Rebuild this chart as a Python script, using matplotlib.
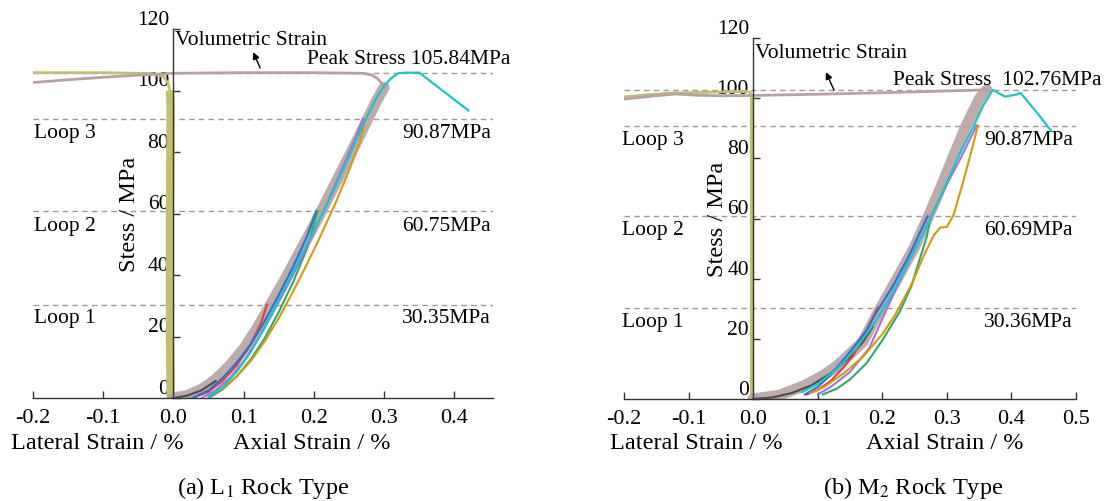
import matplotlib
matplotlib.use("Agg")
import matplotlib.pyplot as plt

plt.rcParams["font.family"] = ["Liberation Serif", "DejaVu Serif"]
plt.rcParams["mathtext.fontset"] = "stix"

# ---- colours ----
BAND, OLIVE, DASH = "#b7a2a2", "#c2be74", "#9a9a9a"
CYAN, BLUE, RED = "#1fc4c8", "#2d6fd8", "#e2413b"
PURPLE, GREEN, GOLD, DARK = "#a86fe0", "#2fa86c", "#d49a0e", "#4f4f4f"

# ================= (a) L1 rock =================
L_env_x = [0, 0.02, 0.04, 0.06, 0.08, 0.10, 0.12, 0.14, 0.16, 0.18, 0.20, 0.22, 0.24, 0.26, 0.275, 0.29, 0.30]
L_env_y = [0, 0.8, 2.8, 6, 10.5, 16, 23, 31, 39, 47.5, 56, 65, 74, 83, 90, 97, 101]
L_vol_x = [0.30, 0.296, 0.29, 0.283, 0.27, 0.2, 0.1, 0.0, -0.05, -0.1, -0.15, -0.2]
L_vol_y = [101, 102.5, 104, 105, 105.6, 105.8, 105.8, 105.6, 105.0, 104.3, 103.5, 102.6]
L_lat_x = [-0.004, -0.005, -0.005, -0.004, -0.005, -0.008, -0.014, -0.03, -0.1, -0.2]
L_lat_y = [0, 20, 60, 95, 100, 102.5, 104.5, 105.5, 105.8, 105.8]
L_dark_x = [0, 0.02, 0.04, 0.06]
L_dark_y = [0, 0.8, 2.5, 5.5]
L_red_x = [0.027, 0.05, 0.07, 0.09, 0.11, 0.125, 0.133]
L_red_y = [0, 2, 5.5, 10.5, 17.5, 24.5, 30.35]
L_blue_x = [0.027, 0.05, 0.07, 0.09, 0.11, 0.13, 0.15, 0.17, 0.19, 0.203]
L_blue_y = [0, 2.5, 6.5, 11.5, 17.5, 25, 33.5, 42.5, 52.5, 60.75]
L_green_x = [0.05, 0.07, 0.09, 0.11, 0.13, 0.15, 0.17, 0.19, 0.205]
L_green_y = [0, 2.8, 7, 12.5, 19.5, 28, 37.5, 48.5, 60.75]
L_purple_x = [0.04, 0.06, 0.08, 0.10, 0.12, 0.14, 0.16, 0.18, 0.20, 0.22, 0.24, 0.26, 0.27]
L_purple_y = [0, 2.5, 6.5, 12, 19, 27, 35.5, 44.5, 54, 64, 74.5, 85, 90.87]
L_gold_x = [0.055, 0.07, 0.09, 0.11, 0.13, 0.15, 0.17, 0.19, 0.21, 0.23, 0.25, 0.265, 0.273]
L_gold_y = [1.5, 3, 7, 12, 18.5, 26, 34.5, 43.5, 53, 63, 74, 83, 90.87]
L_cyan_x = [0.05, 0.07, 0.09, 0.11, 0.13, 0.146, 0.16, 0.18, 0.20, 0.212, 0.23, 0.25, 0.27, 0.28,
            0.29, 0.30, 0.31, 0.32, 0.33, 0.35, 0.42]
L_cyan_y = [0.5, 3.5, 8.5, 15, 23, 30, 36.5, 45.5, 54.5, 60, 68.5, 78.5, 89, 93.5,
            98, 101.5, 104, 105.6, 105.8, 105.8, 93.5]
L_levels = [30.35, 60.75, 90.87, 105.84]

# ================= (b) M2 rock =================
M_env_x = [0, 0.04, 0.08, 0.11, 0.13, 0.15, 0.17, 0.193, 0.21, 0.227, 0.25, 0.27, 0.29, 0.309, 0.33, 0.351, 0.362]
M_env_y = [0, 1.2, 4.5, 8, 11, 15, 19, 28.5, 35, 41.5, 50.5, 60, 70, 80, 90.87, 100, 102.76]
M_vol_x = [0.362, 0.3, 0.2, 0.1, 0.0, -0.05, -0.09, -0.12, -0.15, -0.2]
M_vol_y = [102.76, 102.4, 101.8, 101.3, 100.9, 100.8, 101.0, 101.4, 100.8, 99.7]
M_lat_x = [-0.002, -0.002, -0.002, -0.004, -0.01, -0.05, -0.1, -0.12, -0.16, -0.2]
M_lat_y = [0, 50, 100, 101.8, 102.3, 102.1, 101.8, 101.8, 101.2, 100.4]
M_dark_x = [0, 0.03, 0.06, 0.09, 0.12, 0.15, 0.17, 0.185]
M_dark_y = [0, 0.5, 2, 4.5, 8.5, 14, 19, 24]
M_red_x = [0.083, 0.10, 0.12, 0.14, 0.155, 0.17, 0.183, 0.193]
M_red_y = [1.5, 3, 6, 10.5, 14.5, 20.5, 26, 30.36]
M_blue_x = [0.08, 0.10, 0.12, 0.134, 0.155, 0.176, 0.19, 0.215, 0.24, 0.27]
M_blue_y = [1.5, 4, 8, 11.5, 17, 23, 28.5, 37, 47, 60.69]
M_green_x = [0.108, 0.13, 0.15, 0.176, 0.20, 0.227, 0.245, 0.258, 0.269, 0.275]
M_green_y = [1.5, 3.5, 6.5, 12, 19.5, 29, 37.5, 46.5, 54, 60.69]
M_purple_x = [0.10, 0.12, 0.15, 0.18, 0.207, 0.23, 0.25, 0.274, 0.30, 0.32, 0.335, 0.346]
M_purple_y = [1.5, 4, 9, 17, 30, 40.5, 49.5, 60, 71.5, 79.5, 86, 90.87]
M_gold_x = [0.088, 0.11, 0.14, 0.17, 0.20, 0.22, 0.245, 0.265, 0.28, 0.29, 0.30, 0.31, 0.325, 0.34, 0.348]
M_gold_y = [2, 4, 8.5, 14, 21.5, 28, 38, 48, 54.5, 57, 57.2, 61, 72, 84, 90.87]
M_cyan_x = [0.076, 0.10, 0.13, 0.16, 0.19, 0.21, 0.23, 0.25, 0.275, 0.30, 0.32, 0.34, 0.355,
            0.371, 0.39, 0.408, 0.414, 0.444, 0.462]
M_cyan_y = [2.3, 5, 10, 17, 26, 33, 41, 49.5, 60, 72, 81.5, 90, 97,
            102.76, 100.5, 101.2, 101.8, 94, 89]
M_levels = [30.36, 60.69, 90.87, 102.76]

XTICKS_L = [-0.2, -0.1, 0.0, 0.1, 0.2, 0.3, 0.4]
XTICKS_M = [-0.2, -0.1, 0.0, 0.1, 0.2, 0.3, 0.4, 0.5]
YTICKS = [0, 20, 40, 60, 80, 100, 120]

FS = 15.5      # annotations, y ticks
FS_AX = 17.5   # axis titles, captions
W, H = 1114, 502
fig = plt.figure(figsize=(W / 100, H / 100), dpi=100)
axL = fig.add_axes([33 / W, 1 - 399 / H, 460 / W, 369 / H])
axM = fig.add_axes([624 / W, 1 - 400 / H, 452 / W, 361 / H])


def setup(ax, xmax, xticks):
    ax.set_xlim(-0.2, xmax)
    ax.set_ylim(0, 120)
    ax.spines["top"].set_visible(False)
    ax.spines["right"].set_visible(False)
    ax.spines["left"].set_position(("data", 0))
    for s in ("left", "bottom"):
        ax.spines[s].set_color("#333333")
        ax.spines[s].set_linewidth(1.0)
    ax.set_xticks(xticks)
    ax.set_xticklabels([f"{t:.1f}" for t in xticks], fontsize=16)
    ax.set_yticks(YTICKS)
    ax.set_yticklabels([str(t) for t in YTICKS], fontsize=FS, va="bottom")
    ax.tick_params(axis="both", direction="in", length=5, width=1, colors="#333333",
                   labelcolor="black")
    ax.tick_params(axis="x", pad=7)
    ax.tick_params(axis="y", pad=3)
    ax.patch.set_alpha(0)


def curves(ax, env, vol, lat, dark, loops, cyan, lat_lw, n_vert):
    lx, ly = lat
    ax.plot(lx[:n_vert], ly[:n_vert], color=OLIVE, lw=lat_lw, solid_capstyle="butt", zorder=2)
    ax.plot(lx[n_vert - 1:], ly[n_vert - 1:], color=OLIVE, lw=2, zorder=2)
    ax.plot(*vol, color=BAND, lw=2, zorder=2)
    ax.plot(*env, color=BAND, lw=8, alpha=0.9, solid_capstyle="round", zorder=2)
    ax.plot(*dark, color=DARK, lw=1.6, zorder=3)
    for (xs, ys), c in loops:
        ax.plot(xs, ys, color=c, lw=1.5, zorder=3)
    ax.plot(*cyan, color=CYAN, lw=1.6, zorder=4)


def levels(ax, vals):
    for v in vals:
        ax.axhline(v, color=DASH, lw=1, ls=(0, (4, 3)), zorder=1)


# ---- (a) ----
setup(axL, 0.455, XTICKS_L)
levels(axL, L_levels)
curves(axL, (L_env_x, L_env_y), (L_vol_x, L_vol_y), (L_lat_x, L_lat_y), (L_dark_x, L_dark_y),
       [((L_red_x, L_red_y), RED), ((L_blue_x, L_blue_y), BLUE), ((L_green_x, L_green_y), GREEN),
        ((L_purple_x, L_purple_y), PURPLE), ((L_gold_x, L_gold_y), GOLD)],
       (L_cyan_x, L_cyan_y), 6, 5)
axL.text(0.002, 116.6, "Volumetric Strain", fontsize=FS, ha="left", va="center")
axL.annotate("", xy=(0.112, 113.3), xytext=(0.125, 106.5),
             arrowprops=dict(arrowstyle="-|>", color="black", lw=1, mutation_scale=10))
axL.text(0.19, 110.4, "Peak Stress 105.84MPa", fontsize=FS, ha="left", va="center")
for v, lab, loop in zip([86.2, 56.2, 26.3], ["90.87MPa", "60.75MPa", "30.35MPa"],
                        ["Loop 3", "Loop 2", "Loop 1"]):
    axL.text(0.452, v, lab, fontsize=FS, ha="right", va="center")
    axL.text(-0.199, v, loop, fontsize=FS, ha="left", va="center")
axL.text(-0.063, 60, "Stess / MPa", fontsize=FS_AX, rotation=90, ha="center", va="center")
axL.text(0.14, -0.12, "Lateral Strain / %", fontsize=FS_AX, ha="center", va="center",
         transform=axL.transAxes)
axL.text(0.605, -0.12, "Axial Strain / %", fontsize=FS_AX, ha="center", va="center",
         transform=axL.transAxes)
axL.text(0.5, -0.24, r"(a) L$_1$ Rock Type", fontsize=FS_AX, ha="center", va="center",
         transform=axL.transAxes)

# ---- (b) ----
setup(axM, 0.5, XTICKS_M)
levels(axM, M_levels)
curves(axM, (M_env_x, M_env_y), (M_vol_x, M_vol_y), (M_lat_x, M_lat_y), (M_dark_x, M_dark_y),
       [((M_red_x, M_red_y), RED), ((M_blue_x, M_blue_y), BLUE), ((M_green_x, M_green_y), GREEN),
        ((M_purple_x, M_purple_y), PURPLE), ((M_gold_x, M_gold_y), GOLD)],
       (M_cyan_x, M_cyan_y), 3, 3)
axM.text(0.003, 115.1, "Volumetric Strain", fontsize=FS, ha="left", va="center")
axM.annotate("", xy=(0.111, 109.5), xytext=(0.127, 101.8),
             arrowprops=dict(arrowstyle="-|>", color="black", lw=1, mutation_scale=10))
axM.text(0.216, 106.1, "Peak Stress  102.76MPa", fontsize=FS, ha="left", va="center")
for v, lab, loop in zip([86.4, 56.2, 25.9], ["90.87MPa", "60.69MPa", "30.36MPa"],
                        ["Loop 3", "Loop 2", "Loop 1"]):
    axM.text(0.495, v, lab, fontsize=FS, ha="right", va="center")
    axM.text(-0.203, v, loop, fontsize=FS, ha="left", va="center")
axM.text(-0.055, 60, "Stess / MPa", fontsize=FS_AX, rotation=90, ha="center", va="center")
axM.text(0.16, -0.12, "Lateral Strain / %", fontsize=FS_AX, ha="center", va="center",
         transform=axM.transAxes)
axM.text(0.71, -0.12, "Axial Strain / %", fontsize=FS_AX, ha="center", va="center",
         transform=axM.transAxes)
axM.text(0.64, -0.245, r"(b) M$_2$ Rock Type", fontsize=FS_AX, ha="center", va="center",
         transform=axM.transAxes)

fig.savefig("out.png", dpi=100, facecolor="white")
